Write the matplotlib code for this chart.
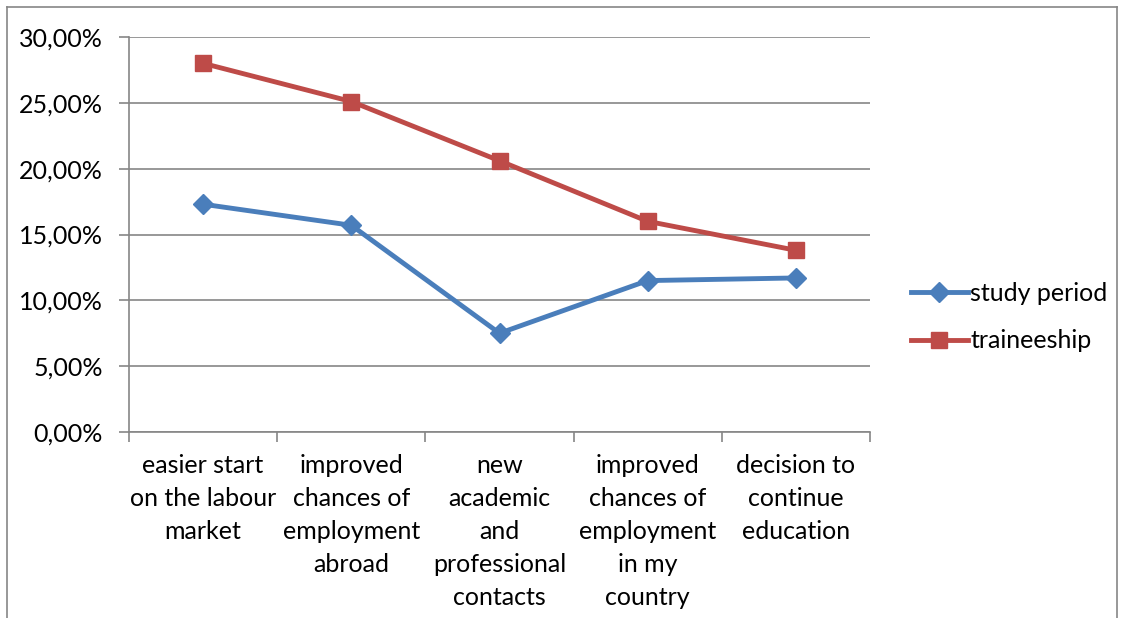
import matplotlib
matplotlib.use("Agg")
import matplotlib.pyplot as plt
from matplotlib.lines import Line2D
from matplotlib.ticker import FuncFormatter, FixedLocator

categories = ["easier start\non the labour\nmarket",
              "improved\nchances of\nemployment\nabroad",
              "new\nacademic\nand\nprofessional\ncontacts",
              "improved\nchances of\nemployment\nin my\ncountry",
              "decision to\ncontinue\neducation"]
study_period = [17.3, 15.7, 7.5, 11.5, 11.7]
traineeship = [28.0, 25.1, 20.6, 16.0, 13.8]
yticks = [0, 5, 10, 15, 20, 25, 30]

plt.rcParams['font.family'] = ['Lato', 'DejaVu Sans']
FS = 18
W, H = 1124, 618
fig = plt.figure(figsize=(W/100, H/100), dpi=100)
ax = fig.add_axes([129/W, (H-432)/H, (870-129)/W, (432-37)/H])

x = list(range(len(categories)))
blue = "#4a7ebb"
red = "#be4b48"
ax.plot(x, study_period, color=blue, lw=3.5, marker='D', ms=10, mfc=blue, mec=blue, label="study period", zorder=3)
ax.plot(x, traineeship, color=red, lw=3.5, marker='s', ms=11, mfc=red, mec=red, label="traineeship", zorder=3)

ax.set_xlim(-0.5, len(categories)-0.5)
ax.set_ylim(0, 30)
ax.yaxis.set_major_locator(FixedLocator(yticks))
ax.yaxis.set_major_formatter(FuncFormatter(lambda v, p: f"{v:.2f}".replace('.', ',') + "%"))
ax.grid(axis='y', color='#868686', lw=1.2)
ax.set_axisbelow(True)
for s in ['top', 'right']:
    ax.spines[s].set_visible(False)
for s in ['left', 'bottom']:
    ax.spines[s].set_color('#868686')
    ax.spines[s].set_linewidth(1.2)

ax.set_xticks([i - 0.5 for i in range(len(categories)+1)])
ax.set_xticklabels([])
ax.set_xticks(x, minor=True)
ax.set_xticklabels(categories, minor=True, fontsize=FS, linespacing=1.52)
ax.tick_params(axis='x', which='major', length=7, color='#868686', width=1.2, direction='out')
ax.tick_params(axis='x', which='minor', length=0, pad=16)
ax.tick_params(axis='y', length=7, color='#868686', width=1.2, labelsize=FS, pad=12)
for t in ax.get_xticklabels(minor=True):
    t.set_verticalalignment('top')

handles = [Line2D([], [], color=blue, lw=3.5, marker='D', ms=10),
           Line2D([], [], color=red, lw=3.5, marker='s', ms=11)]
fig.legend(handles, ["study period", "traineeship"], loc='center left',
           bbox_to_anchor=(888/W, 1-317/H), frameon=False, fontsize=FS,
           handlelength=2.3, handletextpad=0.1, labelspacing=0.98)

# outer chart border
fig.add_artist(plt.Line2D([7/W, 7/W], [0, 1-7/H], color='#868686', lw=1.2))
fig.add_artist(plt.Line2D([7/W, 1117/W], [1-7/H, 1-7/H], color='#868686', lw=1.2))
fig.add_artist(plt.Line2D([1117/W, 1117/W], [0, 1-7/H], color='#868686', lw=1.2))

fig.savefig("out.png", dpi=100)
